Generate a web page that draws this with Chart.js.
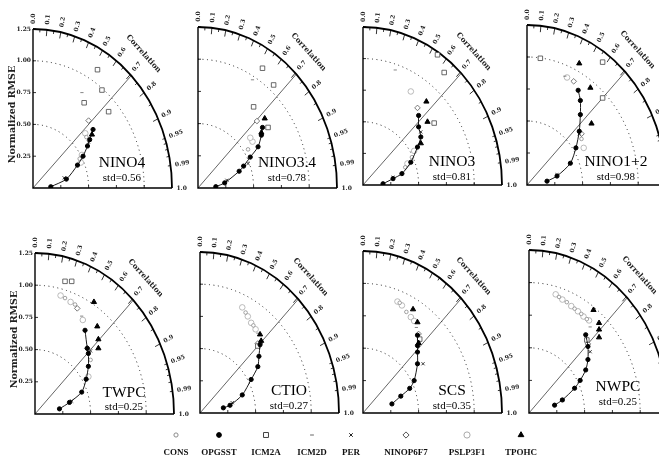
<!DOCTYPE html>
<html>
<head>
<meta charset="utf-8">
<script src="https://cdn.jsdelivr.net/npm/chart.js@4.4.0/dist/chart.umd.min.js"></script>
<style>
  body { margin: 0; background: #fff; }
  #wrap { position: relative; width: 659px; height: 462px; overflow: hidden; background: #fff; }
  #wrap canvas { position: absolute; left: 0; top: 0; }
</style>
</head>
<body>
<div id="wrap"></div>
<script>
// panels, in reading order
const regions = ['NINO4', 'NINO3.4', 'NINO3', 'NINO1+2', 'TWPC', 'CTIO', 'SCS', 'NWPC'];
const stds = ['0.56', '0.78', '0.81', '0.98', '0.25', '0.27', '0.35', '0.25'];
const seriesNames = ['CONS', 'OPGSST', 'ICM2A', 'ICM2D', 'PER', 'NINOP6F7', 'PSLP3F1', 'TPOHC'];
const corrLabels = ['0.0', '0.1', '0.2', '0.3', '0.4', '0.5', '0.6', '0.7', '0.8', '0.9', '0.95', '0.99', '1.0'];
const rmseTicks = [0.25, 0.5, 0.75, 1.0, 1.25];

// points [x, y] per panel
const CONS = [
  [[0.42, 0.23], [0.48, 0.40]],
  [[0.45, 0.30]],
  [[0.38, 0.14], [0.44, 0.22]],
  [[0.49, 0.36]],
  [[0.27, 0.90], [0.36, 0.85], [0.50, 0.42]],
  [[0.41, 0.78], [0.48, 0.68]],
  [[0.33, 0.85], [0.39, 0.78]],
  [[0.27, 0.89], [0.34, 0.85], [0.41, 0.80], [0.47, 0.76], [0.52, 0.72]]
];
const OPGSST = [
  [[0.16, 0.01], [0.30, 0.07], [0.40, 0.18], [0.45, 0.25], [0.49, 0.33], [0.51, 0.38], [0.54, 0.46]],
  [[0.16, 0.01], [0.24, 0.04], [0.37, 0.13], [0.41, 0.17], [0.47, 0.24], [0.54, 0.32], [0.57, 0.41], [0.58, 0.47]],
  [[0.18, 0.01], [0.27, 0.05], [0.35, 0.09], [0.43, 0.18], [0.49, 0.30], [0.52, 0.38], [0.50, 0.46], [0.50, 0.55]],
  [[0.18, 0.03], [0.27, 0.07], [0.39, 0.17], [0.44, 0.29], [0.47, 0.42], [0.48, 0.55], [0.48, 0.66], [0.46, 0.74]],
  [[0.22, 0.04], [0.31, 0.09], [0.42, 0.17], [0.46, 0.27], [0.48, 0.37], [0.48, 0.47], [0.47, 0.51], [0.45, 0.65]],
  [[0.21, 0.04], [0.27, 0.06], [0.38, 0.14], [0.46, 0.26], [0.52, 0.36], [0.53, 0.44], [0.54, 0.53]],
  [[0.26, 0.07], [0.34, 0.13], [0.42, 0.19], [0.46, 0.25], [0.49, 0.38], [0.49, 0.47], [0.49, 0.52], [0.49, 0.60]],
  [[0.23, 0.06], [0.30, 0.10], [0.41, 0.19], [0.46, 0.25], [0.51, 0.33], [0.53, 0.41], [0.53, 0.51], [0.51, 0.60]]
];
const ICM2A = [
  [[0.58, 0.93], [0.62, 0.77], [0.68, 0.60], [0.46, 0.67]],
  [[0.58, 0.93], [0.68, 0.80], [0.50, 0.63], [0.63, 0.47]],
  [[0.67, 1.03], [0.73, 0.89], [0.64, 0.49]],
  [[0.12, 0.99], [0.68, 0.96], [0.68, 0.68]],
  [[0.33, 1.03], [0.27, 1.03]],
  [[0.52, 0.52]],
  [[0.51, 0.57]],
  [[0.52, 0.56]]
];
const ICM2D = [
  [[0.44, 0.75]],
  [[0.49, 0.84]],
  [[0.29, 0.91]],
  [[0.34, 0.85]],
  [[0.42, 0.76]],
  [[0.52, 0.62]],
  [[0.48, 0.66]],
  [[0.55, 0.66]]
];
const PER = [
  [[0.28, 0.08], [0.50, 0.36]],
  [[0.26, 0.06], [0.45, 0.19]],
  [[0.27, 0.06], [0.52, 0.42]],
  [[0.27, 0.08], [0.47, 0.40]],
  [[0.33, 0.10], [0.50, 0.49]],
  [[0.29, 0.08], [0.55, 0.55]],
  [[0.34, 0.13], [0.54, 0.38]],
  [[0.30, 0.10], [0.55, 0.47]]
];
const NINOP6F7 = [
  [[0.50, 0.53]],
  [[0.53, 0.52]],
  [[0.49, 0.61]],
  [[0.42, 0.81], [0.49, 0.40]],
  [[0.38, 0.82], [0.47, 0.51]],
  [[0.52, 0.54]],
  [[0.50, 0.61]],
  [[0.53, 0.53]]
];
const PSLP3F1 = [
  [[0.43, 0.20], [0.44, 0.26], [0.47, 0.43]],
  [[0.49, 0.36], [0.47, 0.39]],
  [[0.43, 0.74], [0.40, 0.17], [0.46, 0.27]],
  [[0.51, 0.29], [0.36, 0.84]],
  [[0.23, 0.92], [0.32, 0.87], [0.43, 0.73], [0.48, 0.29]],
  [[0.38, 0.82], [0.43, 0.75], [0.46, 0.70], [0.50, 0.65]],
  [[0.31, 0.86], [0.35, 0.83], [0.43, 0.74], [0.46, 0.71]],
  [[0.24, 0.91], [0.30, 0.87], [0.38, 0.82], [0.44, 0.78], [0.49, 0.74], [0.54, 0.71]]
];
const TPOHC = [
  [[0.53, 0.42]],
  [[0.60, 0.54], [0.57, 0.43]],
  [[0.57, 0.66], [0.58, 0.50], [0.52, 0.33]],
  [[0.47, 0.95], [0.57, 0.76], [0.58, 0.48]],
  [[0.53, 0.87], [0.56, 0.68], [0.57, 0.58], [0.57, 0.51]],
  [[0.54, 0.61], [0.55, 0.56]],
  [[0.45, 0.80], [0.49, 0.70], [0.50, 0.54]],
  [[0.58, 0.79], [0.63, 0.69], [0.63, 0.64], [0.63, 0.58]]
];
const seriesData = { CONS, OPGSST, ICM2A, ICM2D, PER, NINOP6F7, PSLP3F1, TPOHC };

// where each quarter-disc sits on the page (origin and top of the 1.25 axis)
const W = 139;
const frames = [
  { ox: 33, oy: 188, top: 29, ty: 0.195 },
  { ox: 198, oy: 188, top: 27, ty: 0.195 },
  { ox: 363, oy: 185, top: 27, ty: 0.18 },
  { ox: 527, oy: 185, top: 25, ty: 0.18 },
  { ox: 35, oy: 414, top: 253, ty: 0.165 },
  { ox: 200, oy: 413, top: 252, ty: 0.17 },
  { ox: 363, oy: 413, top: 251, ty: 0.17 },
  { ox: 529, oy: 413, top: 250, ty: 0.20 }
];

const styles = {
  CONS:     { pointStyle: 'circle',   radius: 1.8, bg: '#fff', border: '#8a8a8a', bw: 0.8, order: 6 },
  OPGSST:   { pointStyle: 'circle',   radius: 2.1, bg: '#000', border: '#000',    bw: 1,   order: 0 },
  ICM2A:    { pointStyle: 'rect',     radius: 3.2, bg: '#fff', border: '#444',    bw: 0.8, order: 2 },
  ICM2D:    { pointStyle: 'line',     radius: 1.6, bg: '#666', border: '#666',    bw: 0.8, order: 5 },
  PER:      { pointStyle: 'crossRot', radius: 2.2, bg: '#000', border: '#222',    bw: 0.9, order: 3 },
  NINOP6F7: { pointStyle: 'rectRot',  radius: 2.8, bg: '#fff', border: '#555',    bw: 0.8, order: 4 },
  PSLP3F1:  { pointStyle: 'circle',   radius: 2.8, bg: '#fff', border: '#aaa',    bw: 0.8, order: 7 },
  TPOHC:    { pointStyle: 'triangle', radius: 3.0, bg: '#000', border: '#000',    bw: 1,   order: 1 }
};
const legendX = [176, 219, 266, 312, 351, 406, 467, 521];

const taylor = {
  id: 'taylor',
  beforeDatasetsDraw(chart, args, opts) {
    const { ctx, scales: { x, y } } = chart;
    const x0 = x.getPixelForValue(0), y0 = y.getPixelForValue(0);
    const rx = r => x.getPixelForValue(r) - x0;
    const ry = r => y0 - y.getPixelForValue(r);
    const at = (r, t) => [x.getPixelForValue(r * Math.cos(t)), y.getPixelForValue(r * Math.sin(t))];
    ctx.save();
    ctx.strokeStyle = '#222';
    ctx.fillStyle = '#111';

    // dotted rmse circles
    ctx.lineWidth = 1;
    ctx.setLineDash([1, 3.5]);
    [0.5, 1.0].forEach(r => {
      ctx.beginPath();
      ctx.ellipse(x0, y0, rx(r), ry(r), 0, -Math.PI / 2, 0);
      ctx.stroke();
    });
    ctx.setLineDash([]);

    // 45 degree line
    ctx.lineWidth = 0.7;
    ctx.beginPath();
    ctx.moveTo(x0, y0);
    const e = at(1.25, Math.PI / 4);
    ctx.lineTo(e[0], e[1]);
    ctx.stroke();

    // outer arc
    ctx.strokeStyle = '#000';
    ctx.lineWidth = 1.8;
    ctx.beginPath();
    ctx.ellipse(x0, y0, rx(1.25), ry(1.25), 0, -Math.PI / 2, 0);
    ctx.stroke();

    // axes
    ctx.lineWidth = 1.4;
    ctx.beginPath();
    ctx.moveTo(x0, y.getPixelForValue(1.25));
    ctx.lineTo(x0, y0);
    ctx.lineTo(x.getPixelForValue(1.25), y0);
    ctx.stroke();

    // axis ticks
    ctx.lineWidth = 0.8;
    rmseTicks.forEach(v => {
      const py = y.getPixelForValue(v), px = x.getPixelForValue(v);
      ctx.beginPath();
      ctx.moveTo(x0, py); ctx.lineTo(x0 + 3, py);
      if (v < 1.25) { ctx.moveTo(px, y0); ctx.lineTo(px, y0 - 3); }
      ctx.stroke();
    });

    // correlation ticks on the arc
    for (let k = 1; k < 20; k++) {
      const c = k / 20, t = Math.acos(c);
      const a = at(1.25, t), b = at(k % 2 ? 1.225 : 1.2, t);
      ctx.beginPath(); ctx.moveTo(a[0], a[1]); ctx.lineTo(b[0], b[1]); ctx.stroke();
    }
    [0.96, 0.97, 0.98, 0.99].forEach(c => {
      const t = Math.acos(c);
      const a = at(1.25, t), b = at(1.225, t);
      ctx.beginPath(); ctx.moveTo(a[0], a[1]); ctx.lineTo(b[0], b[1]); ctx.stroke();
    });

    // correlation labels, written along the radius
    ctx.font = 'bold 6px "DejaVu Serif"';
    ctx.fillStyle = '#222';
    ctx.textAlign = 'left';
    ctx.textBaseline = 'middle';
    corrLabels.forEach(lab => {
      const t = Math.acos(parseFloat(lab));
      const p = at(1.29, t);
      const ang = Math.atan2(y0 - p[1], p[0] - x0);
      ctx.save();
      ctx.translate(p[0], p[1]);
      ctx.rotate(-ang);
      ctx.fillText(lab, 0, 0);
      ctx.restore();
    });

    // "Correlation" along the arc
    const cp = at(1.45, Math.PI / 4 + 0.03);
    ctx.save();
    ctx.translate(cp[0], cp[1]);
    ctx.rotate(Math.PI / 4 + 0.05);
    ctx.font = 'bold 7.5px "DejaVu Serif"';
    ctx.textAlign = 'center';
    ctx.fillText('Correlation', 0, 0);
    ctx.restore();

    // left column gets the rmse axis labels
    if (opts.leftAxis) {
      ctx.font = 'bold 6px "DejaVu Serif"';
      ctx.textAlign = 'right';
      rmseTicks.forEach(v => ctx.fillText(v.toFixed(2), x0 - 2, y.getPixelForValue(v)));
      ctx.save();
      ctx.translate(x0 - 20, (y0 + y.getPixelForValue(1.25)) / 2 + 6);
      ctx.rotate(-Math.PI / 2);
      ctx.font = 'bold 9.5px "DejaVu Serif"';
      ctx.textAlign = 'center';
      ctx.fillText('Normalized RMSE', 0, 0);
      ctx.restore();
    }
    ctx.restore();
  },
  afterDatasetsDraw(chart, args, opts) {
    const { ctx, scales: { x, y } } = chart;
    ctx.save();
    ctx.fillStyle = '#000';
    ctx.textAlign = 'center';
    ctx.textBaseline = 'middle';
    ctx.font = '15.5px "Liberation Serif"';
    ctx.fillText(opts.title, x.getPixelForValue(0.8), y.getPixelForValue(opts.ty));
    ctx.font = '11px "Liberation Serif"';
    ctx.fillText('std=' + opts.std, x.getPixelForValue(0.8), y.getPixelForValue(opts.ty - 0.115));

    if (opts.legend) {
      seriesNames.forEach((name, i) => {
        const s = styles[name];
        ctx.fillStyle = s.bg;
        ctx.strokeStyle = s.border;
        Chart.helpers.drawPoint(ctx, { pointStyle: s.pointStyle, radius: s.radius + 0.3, borderWidth: s.bw, rotation: 0 }, legendX[i], 435);
        ctx.fillStyle = '#111';
        ctx.font = 'bold 9px "Liberation Serif"';
        ctx.fillText(name, legendX[i], 453);
      });
    }
    ctx.restore();
  }
};

const wrap = document.getElementById('wrap');
regions.forEach((name, i) => {
  const f = frames[i];
  const cv = document.createElement('canvas');
  cv.width = 700;
  cv.height = 462;
  wrap.appendChild(cv);

  const datasets = seriesNames.map(s => {
    const st = styles[s];
    return {
      label: s,
      data: seriesData[s][i].map(([px, py]) => ({ x: px, y: py })),
      showLine: s === 'OPGSST',
      tension: 0.25,
      borderColor: '#000',
      borderWidth: 0.9,
      pointStyle: st.pointStyle,
      pointRadius: st.radius,
      pointBackgroundColor: st.bg,
      pointBorderColor: st.border,
      pointBorderWidth: st.bw,
      order: st.order
    };
  });

  new Chart(cv, {
    type: 'scatter',
    data: { datasets },
    plugins: [taylor],
    options: {
      responsive: false,
      animation: false,
      events: [],
      layout: { padding: { left: f.ox, top: f.top, right: 700 - f.ox - W, bottom: 462 - f.oy } },
      scales: {
        x: { type: 'linear', min: 0, max: 1.25, display: false },
        y: { type: 'linear', min: 0, max: 1.25, display: false }
      },
      plugins: {
        legend: { display: false },
        tooltip: { enabled: false },
        taylor: { title: name, std: stds[i], ty: f.ty, leftAxis: i % 4 === 0, legend: i === 7 }
      }
    }
  });
});
</script>
</body>
</html>
